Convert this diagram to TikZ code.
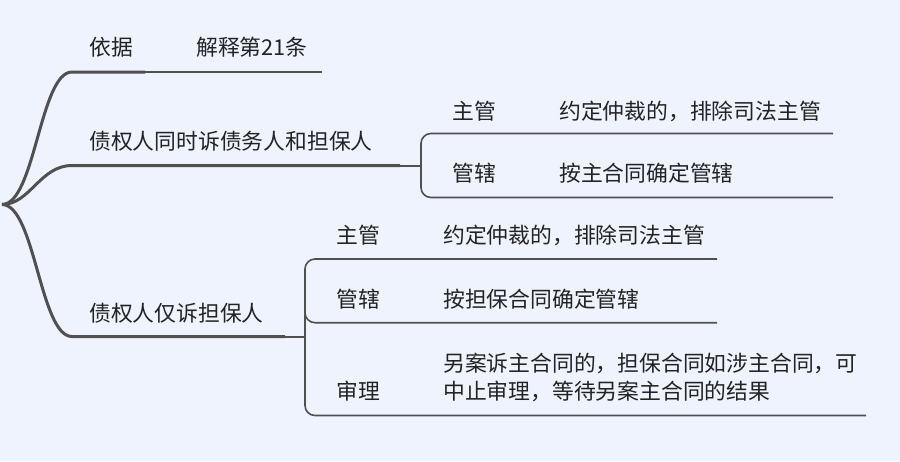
\documentclass[tikz,border=0pt]{standalone}
\usepackage{fontspec}
\setmainfont{Noto Sans CJK SC}
\definecolor{bg}{RGB}{238,243,253}
\definecolor{ln}{RGB}{80,80,80}
\definecolor{tx}{RGB}{35,35,35}
\begin{document}
\begin{tikzpicture}[x=1pt,y=-1pt,
  lbl/.style={anchor=base west, inner sep=0pt, text=tx, font=\fontsize{21.8}{28}\selectfont},
  mainln/.style={draw=ln, line width=3pt},
  thinln/.style={draw=ln, line width=2pt},
  subln/.style={draw=ln, line width=1.6pt, rounded corners=10pt}]
\fill[bg] (0,0) rectangle (900,461);
\useasboundingbox (0,0) rectangle (900,461);
% coordinates
\coordinate (root) at (2,204.5);
\coordinate (b1s) at (72,72);   \coordinate (b1m) at (145,72);   \coordinate (b1e) at (322,72);
\coordinate (b2s) at (72,165.5); \coordinate (b2m) at (400,165.5); \coordinate (b2e) at (421,165.5);
\coordinate (b3s) at (72,336.5); \coordinate (b3m) at (285,336.5); \coordinate (b3e) at (305,336.5);
% bracket 2 ends
\coordinate (c2t) at (833,133.5); \coordinate (c2b) at (833,197.5);
% bracket 3 ends
\coordinate (c3a) at (717,259); \coordinate (c3b) at (717,322.7); \coordinate (c3c) at (866,415.5);
% main branches
\draw[mainln] (root) .. controls (35,204.5) and (40,72) .. (b1s) -- (b1m);
\draw[thinln] (b1m) -- (b1e);
\draw[mainln] (root) .. controls (30,204.5) and (40,165.5) .. (b2s) -- (b2m);
\draw[thinln] (b2m) -- (b2e);
\draw[mainln] (root) .. controls (35,204.5) and (40,336.5) .. (b3s) -- (b3m);
\draw[thinln] (b3m) -- (b3e);
% brackets
\draw[subln] (c2t) -- (b2e |- c2t) -- (b2e |- c2b) -- (c2b);
\draw[subln] (c3a) -- (b3e |- c3a) -- (b3e |- c3c) -- (c3c);
\draw[subln] (305,300) -- (b3e |- c3b) -- (c3b);
% texts
\node[lbl] (yj) at (89,55.2) {依据};
\node[lbl] (jsh) at (196,55.2) {解释第21条};
\node[lbl] (b2t) at (89,149.2) {债权人同时诉债务人和担保人};
\node[lbl] (zg2) at (452.5,119.2) {主管};
\node[lbl] (zg2v) at (559,119.2) {约定仲裁的，排除司法主管};
\node[lbl] (gx2) at (452.5,181.5) {管辖};
\node[lbl] (gx2v) at (559,181.5) {按主合同确定管辖};
\node[lbl] (b3t) at (89,321) {债权人仅诉担保人};
\node[lbl] (zg3) at (336.5,243.2) {主管};
\node[lbl] (zg3v) at (443,243.2) {约定仲裁的，排除司法主管};
\node[lbl] (gx3) at (336.5,307.2) {管辖};
\node[lbl] (gx3v) at (443,307.2) {按担保合同确定管辖};
\node[lbl] (sl) at (336.5,399.7) {审理};
\node[lbl] (slv1) at (443,371.2) {另案诉主合同的，担保合同如涉主合同，可};
\node[lbl] (slv2) at (443,399.2) {中止审理，等待另案主合同的结果};
\end{tikzpicture}
\end{document}
